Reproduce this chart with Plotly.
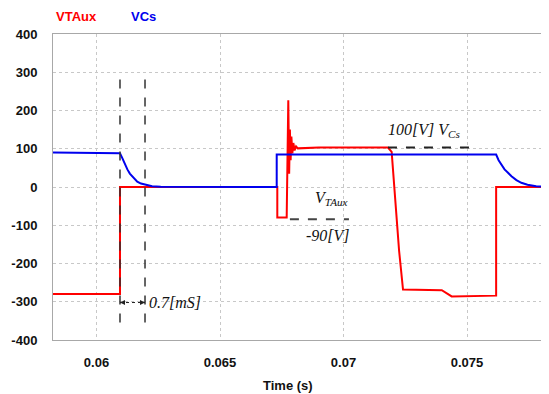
import plotly.graph_objects as go

# ---------------- data ----------------
t_vtaux = [0.05824, 0.0605, 0.060951, 0.060951, 0.06732, 0.06732, 0.06770,
           0.067765, 0.06780, 0.06783, 0.06786, 0.06789, 0.06793, 0.06797,
           0.06802, 0.06808, 0.06815, 0.0690, 0.0718, 0.07195, 0.07209,
           0.07225, 0.07241, 0.07398, 0.07438, 0.07618, 0.07618, 0.07832]
v_vtaux = [-280, -280, -280, 0, 0, -80, -80,
           227, 35, 150, 70, 132, 88, 115,
           96, 106, 101, 103, 103, 92, -33,
           -166, -268, -270, -286, -284, 0, 0]

t_vcs = [0.05824, 0.0605, 0.060951, 0.06105, 0.06115, 0.06125, 0.06135,
         0.06150, 0.06165, 0.06180, 0.06200, 0.06225, 0.06260, 0.067296,
         0.067296, 0.07618, 0.07628, 0.07640, 0.07652, 0.07665, 0.07680,
         0.07700, 0.07720, 0.07745, 0.07780, 0.07832]
v_vcs = [90, 89, 88, 75, 60, 46, 35,
         23, 14, 9, 5, 2, 0.5, 0,
         85, 85, 70, 57, 46, 38, 28,
         18, 11, 6, 2, 0.5]

x_ticks = [0.06, 0.065, 0.07, 0.075]
x_tick_labels = ["0.06", "0.065", "0.07", "0.075"]
y_ticks = [400, 300, 200, 100, 0, -100, -200, -300, -400]
y_tick_labels = ["400", "300", "200", "100", "0", "-100", "-200", "-300", "-400"]

# annotation markers (times / levels)
t_mark1, t_mark2 = 0.060951, 0.061964
v_mark_top, v_mark_bot = 289, -354
v_arrow = -302
cs_line_t = (0.0718, 0.07515)
cs_line_v = 103
aux_line_t = (0.06783, 0.07022)
aux_line_v = -84

X_RANGE = [0.058239, 0.07832]
Y_RANGE = [-400, 400]

RED = "#ff0000"
BLUE = "#0000ee"
AXFONT = dict(family="Liberation Sans, Arial, sans-serif", size=13, color="#111111")
SERIF = "Liberation Serif, Times New Roman, serif"

fig = go.Figure()
fig.add_trace(go.Scatter(x=t_vtaux, y=v_vtaux, mode="lines",
                         line=dict(color=RED, width=2), name="VTAux",
                         showlegend=False))
fig.add_trace(go.Scatter(x=t_vcs, y=v_vcs, mode="lines",
                         line=dict(color=BLUE, width=2), name="VCs",
                         showlegend=False))

dash_col = "#333333"
for tm in (t_mark1, t_mark2):
    fig.add_shape(type="line", x0=tm, x1=tm, y0=v_mark_bot, y1=v_mark_top,
                  xref="x", yref="y", line=dict(color=dash_col, width=1.5, dash="dash"))
fig.add_shape(type="line", x0=cs_line_t[0], x1=cs_line_t[1], y0=cs_line_v, y1=cs_line_v,
              xref="x", yref="y", line=dict(color="#222222", width=2, dash="dash"))
fig.add_shape(type="line", x0=aux_line_t[0], x1=aux_line_t[1], y0=aux_line_v, y1=aux_line_v,
              xref="x", yref="y", line=dict(color="#444444", width=2, dash="dash"))
# dotted double arrow
fig.add_shape(type="line", x0=t_mark1, x1=t_mark2, y0=v_arrow, y1=v_arrow,
              xref="x", yref="y", line=dict(color="#222222", width=1, dash="dot"))
for tip, off in ((t_mark1, 6), (t_mark2, -6)):
    fig.add_annotation(x=tip, y=v_arrow, xref="x", yref="y", text="",
                       showarrow=True, ax=off, ay=0, arrowhead=2, arrowsize=1,
                       arrowwidth=1, arrowcolor="#222222")

fig.add_annotation(x=0.062045, y=v_arrow, xref="x", yref="y", xanchor="left",
                   text="<i>0.7[mS]</i>", showarrow=False,
                   font=dict(family=SERIF, size=16, color="#111111"))
fig.add_annotation(x=0.069534, y=-30, xref="x", yref="y",
                   text="<i>V<sub>TAux</sub></i>", showarrow=False,
                   font=dict(family=SERIF, size=16, color="#111111"))
fig.add_annotation(x=0.069372, y=-127, xref="x", yref="y",
                   text="<i>-90[V]</i>", showarrow=False,
                   font=dict(family=SERIF, size=16, color="#111111"))
fig.add_annotation(x=0.07324, y=148, xref="x", yref="y",
                   text="<i>100[V] V<sub>Cs</sub></i>", showarrow=False,
                   font=dict(family=SERIF, size=16, color="#111111"))

# legend-like labels
fig.add_annotation(x=0.002, y=1.057, xref="paper", yref="paper", xanchor="left",
                   yanchor="middle", text="<b>VTAux</b>", showarrow=False,
                   font=dict(AXFONT, color=RED, size=13))
fig.add_annotation(x=0.153, y=1.057, xref="paper", yref="paper", xanchor="left",
                   yanchor="middle", text="<b>VCs</b>", showarrow=False,
                   font=dict(AXFONT, color=BLUE, size=13))
# x-axis title
fig.add_annotation(x=0.473, y=-0.150, xref="paper", yref="paper",
                   yanchor="middle", text="<b>Time (s)</b>", showarrow=False,
                   font=AXFONT)

fig.update_xaxes(range=X_RANGE, tickvals=x_ticks,
                 ticktext=["<b>%s</b>" % s for s in x_tick_labels],
                 showgrid=True, gridcolor="#c8c8c8", griddash="dot", gridwidth=1,
                 showline=True, mirror=True, linecolor="#a8a8a8", linewidth=1,
                 zeroline=False, ticks="", tickfont=AXFONT, ticklabelstandoff=10)
fig.update_yaxes(range=Y_RANGE, tickvals=y_ticks,
                 ticktext=["<b>%s</b>" % s for s in y_tick_labels],
                 showgrid=True, gridcolor="#c8c8c8", griddash="dot", gridwidth=1,
                 showline=True, mirror=True, linecolor="#a8a8a8", linewidth=1,
                 zeroline=False, ticks="", tickfont=AXFONT, ticklabelstandoff=12)

# page body has an 8px margin, so the figure is offset by 8px
fig.update_layout(width=541, height=386,
                  margin=dict(l=45, r=0, t=26, b=54, pad=0),
                  paper_bgcolor="white", plot_bgcolor="white",
                  showlegend=False)

fig.write_html("out.html")
